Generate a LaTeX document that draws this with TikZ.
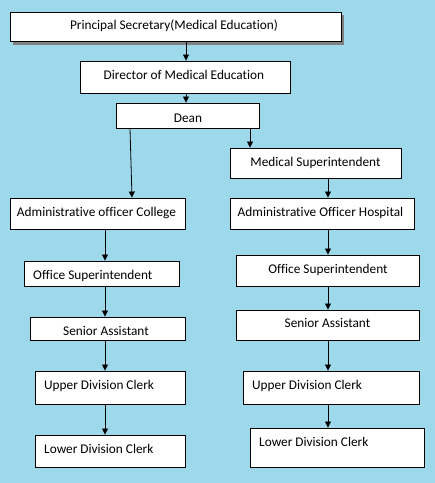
\documentclass[tikz,border=0pt]{standalone}
\usepackage{fontspec}
\setmainfont[Ligatures=NoCommon]{Carlito}
\usetikzlibrary{arrows.meta}
\definecolor{bgblue}{RGB}{157,217,235}
\definecolor{shadowgray}{RGB}{128,128,128}
\tikzset{orgbox/.style={draw=black,fill=white,line width=0.9pt,inner sep=0pt}}
\tikzset{boxtext/.style={inner sep=0pt,font=\fontsize{13.3}{15}\selectfont}}
\tikzset{arr/.style={-{Triangle[length=6pt,width=6pt]},line width=0.8pt}}

\begin{document}
\begin{tikzpicture}[x=1pt,y=-1pt]
            % background and frame
            \fill[bgblue] (0,0) rectangle (435,483);
            \useasboundingbox (0,0) rectangle (435,483);
            % shadow of the top box
            \fill[shadowgray] (13,15) rectangle (344,45);
            % setup the boxes
            \foreach \nm/\xa/\ya/\xb/\yb in {ps/10/12/341/41,dme/80/61/290/93,dean/116/103/259/128,
                ms/230/148/401/178,aoc/10/198/185/229,aoh/230/198/414/229,
                osl/24/261/179/286,osr/236/255/419/286,sal/30/317/185/340,sar/236/310/419/340,
                udcl/35/371/185/404,udcr/243/371/419/404,ldcl/35/435/185/467,ldcr/250/428/424/467}
            {
                \node[orgbox,minimum width={(\xb-\xa)*1pt},minimum height={(\yb-\ya)*1pt}] (\nm) at ({(\xa+\xb)/2},{(\ya+\yb)/2}) {};
            }
            % texts in the boxes
            \foreach \nm/\tx/\ty/\anc/\txt in {ps/174/29/base/Principal Secretary(Medical Education),
                dme/184/79/base/Director of Medical Education,dean/188/122/base/Dean,
                ms/315.5/166/base/Medical Superintendent,aoc/96.5/216/base/Administrative officer College,
                aoh/320.5/216/base/Administrative Officer Hospital,
                osl/33/279/base west/Office Superintendent,osr/328/273/base/Office Superintendent,
                sal/106/335/base/Senior Assistant,sar/327.5/327/base/Senior Assistant,
                udcl/44/389/base west/Upper Division Clerk,udcr/252/389/base west/Upper Division Clerk,
                ldcl/44/453/base west/Lower Division Clerk,ldcr/259/446/base west/Lower Division Clerk}
            {
                \node[boxtext,anchor=\anc] (\nm-t) at (\tx,\ty) {\txt};
            }
            % columns of the connectors
            \coordinate (tc) at (186,0);
            \coordinate (lc) at (105,0);
            \coordinate (rc) at (328,0);
            \coordinate (dl) at (130,0);
            \coordinate (al) at (132,0);
            \coordinate (dr) at (250,0);
            \draw[arr] (ps.south -| tc) -- (dme.north -| tc);
            \draw[arr] (dme.south -| tc) -- (dean.north -| tc);
            \draw[arr] (dean.south -| dl) -- (aoc.north -| al);
            \draw[arr] (dean.south -| dr) -- (ms.north -| dr);
            \foreach \a/\b in {aoc/osl,osl/sal,sal/udcl,udcl/ldcl}
            {
                \draw[arr] (\a.south -| lc) -- (\b.north -| lc);
            }
            \foreach \a/\b in {ms/aoh,aoh/osr,osr/sar,sar/udcr,udcr/ldcr}
            {
                \draw[arr] (\a.south -| rc) -- (\b.north -| rc);
            }
\end{tikzpicture}
\end{document}
